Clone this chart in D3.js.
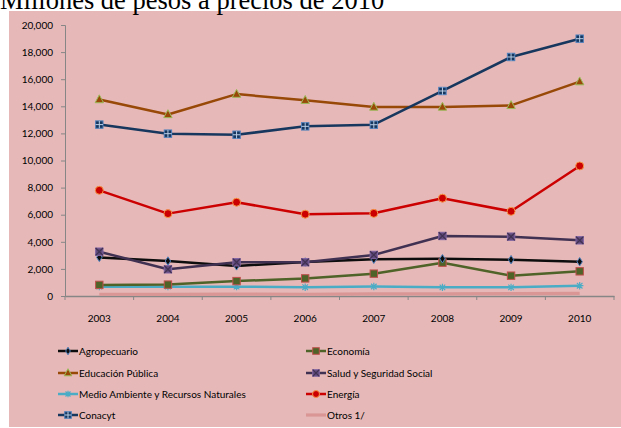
<!DOCTYPE html>
<html><head><meta charset="utf-8">
<script src="https://cdn.jsdelivr.net/npm/d3@7"></script>
<style>body{margin:0;background:#fff}svg{display:block}</style>
</head><body>
<svg id="c" width="621" height="428"></svg>
<script>
const years = ["2003","2004","2005","2006","2007","2008","2009","2010"];
const yTicks = [0,2000,4000,6000,8000,10000,12000,14000,16000,18000,20000];
const agropecuario = [2850,2580,2220,2510,2710,2750,2680,2530];
const economia = [820,840,1100,1300,1650,2460,1500,1820];
const educacion = [14500,13400,14900,14450,13950,13950,14070,15820];
const salud = [3270,1970,2490,2490,3030,4430,4380,4110];
const medioAmbiente = [690,690,690,650,700,640,640,760];
const energia = [7800,6080,6920,6040,6100,7220,6250,9600];
const conacyt = [12650,11980,11900,12520,12640,15130,17640,18990];
const otros = [130,120,140,130,150,160,170,200];
const names = ["Agropecuario","Economía","Educación Pública","Salud y Seguridad Social","Medio Ambiente y Recursos Naturales","Energía","Conacyt","Otros 1/"];

const series = [
  {name:names[7], v:otros, color:"#D99694", w:3.2, marker:null},
  {name:names[4], v:medioAmbiente, color:"#4BACC6", w:2.5, marker:"star"},
  {name:names[1], v:economia, color:"#4F6228", w:2.5, marker:"square", fill:"#4F6228", stroke:"#C0504D"},
  {name:names[0], v:agropecuario, color:"#0D0D0D", w:2.5, marker:"diamond", fill:"#0D0D0D", stroke:"#4F81BD"},
  {name:names[3], v:salud, color:"#403152", w:2.5, marker:"xsquare", fill:"#604A7B", stroke:"#8064A2"},
  {name:names[5], v:energia, color:"#CC0000", w:2.5, marker:"circle", fill:"#CC0000", stroke:"#F79646"},
  {name:names[2], v:educacion, color:"#984807", w:2.5, marker:"triangle", fill:"#984807", stroke:"#9BBB59"},
  {name:names[6], v:conacyt, color:"#17375E", w:2.5, marker:"plus", fill:"#17375E", stroke:"#4F81BD"}
];

const svg = d3.select("#c");
svg.append("rect").attr("x",9).attr("y",11).attr("width",612).attr("height",416).attr("fill","#E6B9B8");
svg.append("text").attr("x",0).attr("y",9).attr("font-family","Liberation Serif").attr("font-size",26.5).attr("fill","#000").text("Millones de pesos a precios de 2010");

const x = d3.scaleBand().domain(years).range([65,614]);
const y = d3.scaleLinear().domain([0,20000]).range([296,25]);
const cx = d => x(d)+x.bandwidth()/2;

const yAxis = svg.append("g").attr("transform","translate(65,0)").call(d3.axisLeft(y).tickValues(yTicks).tickSize(4).tickPadding(8).tickFormat(d3.format(",")));
yAxis.select(".domain").attr("stroke","#868686").attr("stroke-width",1);
yAxis.selectAll(".tick line").attr("stroke","#868686");
yAxis.selectAll("text").attr("font-family","Lato").attr("font-size",10).attr("fill","#000");

const xAxis = svg.append("g").attr("transform","translate(0,296)").call(d3.axisBottom(x).tickSize(0).tickPadding(19));
xAxis.select(".domain").attr("stroke","#868686").attr("stroke-width",1.5);
xAxis.selectAll("text").attr("font-family","Lato").attr("font-size",10).attr("fill","#000");
svg.append("g").selectAll("line").data(d3.range(years.length+1)).join("line")
  .attr("x1",i=>65+i*x.bandwidth()).attr("x2",i=>65+i*x.bandwidth())
  .attr("y1",296).attr("y2",300).attr("stroke","#868686");

function drawMarker(g, m, s, px, py, size){
  const h = size;
  if(m==="square"){ g.append("rect").attr("x",px-h).attr("y",py-h).attr("width",2*h).attr("height",2*h).attr("fill",s.fill).attr("stroke",s.stroke).attr("stroke-width",1); }
  else if(m==="diamond"){ g.append("path").attr("d",`M${px},${py-h-0.5}L${px+h-1},${py}L${px},${py+h+0.5}L${px-h+1},${py}Z`).attr("fill",s.fill).attr("stroke",s.stroke).attr("stroke-width",1); }
  else if(m==="xsquare"){ g.append("rect").attr("x",px-h).attr("y",py-h).attr("width",2*h).attr("height",2*h).attr("fill",s.fill).attr("stroke",s.stroke).attr("stroke-width",1);
    g.append("path").attr("d",`M${px-h},${py-h}L${px+h},${py+h}M${px+h},${py-h}L${px-h},${py+h}`).attr("stroke","#403152").attr("stroke-width",1.2); }
  else if(m==="circle"){ g.append("circle").attr("cx",px).attr("cy",py).attr("r",h).attr("fill",s.fill).attr("stroke",s.stroke).attr("stroke-width",1); }
  else if(m==="triangle"){ g.append("path").attr("d",`M${px},${py-h-1}L${px+h+0.5},${py+h-0.5}L${px-h-0.5},${py+h-0.5}Z`).attr("fill",s.fill).attr("stroke",s.stroke).attr("stroke-width",1); }
  else if(m==="plus"){ g.append("rect").attr("x",px-h).attr("y",py-h).attr("width",2*h).attr("height",2*h).attr("fill",s.fill).attr("stroke",s.stroke).attr("stroke-width",1);
    g.append("path").attr("d",`M${px-h},${py}L${px+h},${py}M${px},${py-h}L${px},${py+h}`).attr("stroke","#B9CDE5").attr("stroke-width",1); }
  else if(m==="star"){ g.append("path").attr("d",`M${px-h},${py}L${px+h},${py}M${px},${py-h}L${px},${py+h}M${px-h*0.75},${py-h*0.75}L${px+h*0.75},${py+h*0.75}M${px+h*0.75},${py-h*0.75}L${px-h*0.75},${py+h*0.75}`).attr("stroke",s.color).attr("stroke-width",1.2); }
}

const line = d3.line().x((d,i)=>cx(years[i])).y(d=>y(d));
series.forEach(s=>{
  svg.append("path").attr("d",line(s.v)).attr("fill","none").attr("stroke",s.color).attr("stroke-width",s.w).attr("stroke-linejoin","round");
});
series.forEach(s=>{
  if(!s.marker) return;
  const g = svg.append("g");
  s.v.forEach((v,i)=>drawMarker(g,s.marker,s,cx(years[i]),y(v),s.marker==="circle"?4:3.7));
});

// legend
const legendOrder = [[0,1],[2,3],[4,5],[6,7]];
const rowsY = [351,373,394,415];
const colX = [58,306];
legendOrder.forEach((pair,r)=>{
  pair.forEach((idx,c)=>{
    const s = series.find(q=>q.name===names[idx]);
    const lx = colX[c], ly = rowsY[r];
    const g = svg.append("g");
    g.append("line").attr("x1",lx).attr("x2",lx+20).attr("y1",ly).attr("y2",ly).attr("stroke",s.color).attr("stroke-width",s.w);
    if(s.marker) drawMarker(g,s.marker,s,lx+10,ly,s.marker==="circle"?3.5:3.3);
    g.append("text").attr("x",lx+21).attr("y",ly+3.5).attr("font-family","Lato").attr("font-size",10).attr("fill","#000").text(s.name);
  });
});
</script>
</body></html>
